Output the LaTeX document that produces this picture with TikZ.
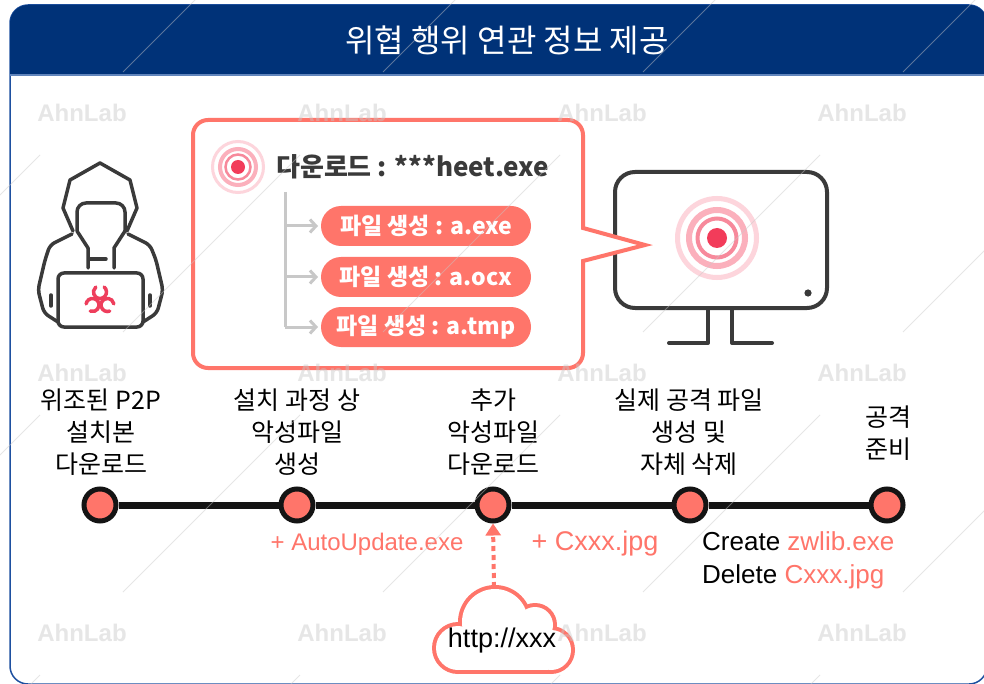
\documentclass[tikz,border=0pt]{standalone}
\usepackage{fontspec}
\setmainfont{Liberation Sans}
\newfontfamily\kr{Noto Sans CJK KR}
\usetikzlibrary{arrows.meta}

\definecolor{navy}{RGB}{0,50,120}
\definecolor{framecol}{RGB}{30,80,160}
\definecolor{salmon}{RGB}{255,117,106}
\definecolor{ink}{RGB}{58,58,58}
\definecolor{treegray}{RGB}{200,200,200}
\definecolor{wmgray}{RGB}{200,200,200}
\definecolor{tgtred}{RGB}{242,60,90}
\definecolor{tgtmid}{RGB}{247,137,155}
\definecolor{tgtpink}{RGB}{251,176,188}
\definecolor{tgtlight}{RGB}{253,213,220}
\definecolor{biored}{RGB}{238,62,92}

\begin{document}
\begin{tikzpicture}[x=1pt,y=-1pt,
  wm/.style={font=\fontsize{24}{24}\selectfont\bfseries, text=wmgray, text opacity=0.45, inner sep=0},
  wmline/.style={draw=wmgray, draw opacity=0.45, line width=1},
  icon/.style={draw=ink, line width=3.5, line cap=round, line join=round},
  biolobe/.style={draw=biored, line width=3.5, line cap=round},
  lbl/.style={font=\kr\fontsize{25}{32}\selectfont, align=center, inner sep=0, text=black},
  stage/.style={circle, draw=black!92, line width=5, fill=salmon, minimum size=32, inner sep=0},
  note/.style={font=\fontsize{24}{32}\selectfont, inner sep=0},
  pill/.style={fill=salmon, rounded corners=20, minimum width=210, minimum height=40, inner sep=0,
    font=\kr\bfseries\fontsize{23}{23}\selectfont, text=white},
  branch/.style={draw=treegray, line width=3, -{Straight Barb[length=6pt,width=13pt,line width=3pt]}},
]
\useasboundingbox (0,0) rectangle (984,684);
\fill[white] (0,0) rectangle (984,684);

% panel frame and title bar
\draw[framecol, line width=1.5, fill=white, rounded corners=18] (10,5) rectangle (987,684);
\fill[navy] (10,75) [rounded corners=18]-- (10,5) -- (987,5) [sharp corners]-- (987,75) -- cycle;
\draw[framecol!70, line width=1.2] (10,75) -- (987,75);
\node[font=\kr\fontsize{32}{36}\selectfont, text=white] (title) at (507,40) {위협 행위 연관 정보 제공};

% hooded figure with laptop
\draw[icon] (73,231) -- (63,208) -- (70,180) -- (100,163) -- (130,180) -- (137,208) -- (127,231);
\draw[icon, rounded corners=9] (77,231) -- (77,203) -- (125,203) -- (125,231);
\draw[icon] (77,231) -- (88,248) -- (88,268);
\draw[icon] (125,231) -- (114,248) -- (114,268);
\draw[icon] (89,259) -- (106,259);
\draw[icon, rounded corners=5] (72,234) -- (50,245) -- (45,260) -- (38,290) -- (44,313) -- (58,322);
\draw[icon, rounded corners=5] (128,234) -- (150,245) -- (156,260) -- (163,290) -- (157,313) -- (143,322);
\draw[icon] (51,295) -- (51,306);
\draw[icon] (150,295) -- (150,306);
\draw[icon, fill=white, rounded corners=6] (58,273) rectangle (143,327);
% biohazard mark: three open lobes around a small hub
\coordinate (bio) at (100,301);
\draw[biolobe] (100,292) ++(310:6.5) arc[start angle=310, end angle=590, radius=6.5];
\draw[biolobe] (92.5,305) ++(190:6.5) arc[start angle=190, end angle=470, radius=6.5];
\draw[biolobe] (107.5,305) ++(70:6.5) arc[start angle=70, end angle=350, radius=6.5];
\draw[biored, line width=2] (bio) circle (2.2);

% monitor
\draw[icon, line width=4, rounded corners=20] (615,172) rectangle (827,308);
\draw[icon, line width=4] (669,343) -- (708,343) -- (708,309);
\draw[icon, line width=4] (772,343) -- (732,343) -- (732,309);
\fill[ink] (808,293) circle (3.6);
\coordinate (mt) at (717,238);
\draw[tgtlight, line width=5] (mt) circle (39.5);
\draw[tgtpink, line width=6] (mt) circle (28);
\draw[tgtmid, line width=4] (mt) circle (19.5);
\fill[tgtred] (mt) circle (10);

% callout with pointer toward the monitor
\draw[salmon, line width=4, fill=white] (193,244) [rounded corners=15]-- (193,120) -- (583,120)
  [sharp corners]-- (583,228) -- (645,245) -- (583,261) [rounded corners=15]-- (583,368) -- (193,368) -- cycle;
\coordinate (ct) at (238,167);
\draw[tgtlight, line width=3] (ct) circle (25.5);
\draw[tgtpink, line width=4] (ct) circle (18);
\draw[tgtmid, line width=2.5] (ct) circle (12.5);
\fill[tgtred] (ct) circle (7);
\node[font=\kr\bfseries\fontsize{26}{26}\selectfont, text=ink, anchor=west, inner sep=0] (dl) at (276,167) {다운로드 : ***heet.exe};

\node[pill] (p1) at (426,226) {파일 생성 : a.exe};
\node[pill] (p2) at (426,277) {파일 생성 : a.ocx};
\node[pill] (p3) at (426,327) {파일 생성 : a.tmp};
\coordinate (tr) at (285,192);
\draw[treegray, line width=3] (tr) -- (285,327);
\draw[branch] (285,226) -- (318,226);
\draw[branch] (285,277) -- (318,277);
\draw[branch] (285,327) -- (318,327);

% timeline
\node[stage] (s1) at (100,505) {};
\node[stage] (s2) at (297,505) {};
\node[stage] (s3) at (493,505) {};
\node[stage] (s4) at (690,505) {};
\node[stage] (s5) at (887,505) {};
\draw[black!92, line width=7] (s1.east) -- (s2.west) (s2.east) -- (s3.west)
  (s3.east) -- (s4.west) (s4.east) -- (s5.west);

\node[lbl] (l1) at (101,432) {위조된 P2P\\설치본\\다운로드};
\node[lbl] (l2) at (297,432) {설치 과정 상\\악성파일\\생성};
\node[lbl] (l3) at (493,432) {추가\\악성파일\\다운로드};
\node[lbl] (l4) at (689,432) {실제 공격 파일\\생성 및\\자체 삭제};
\node[lbl] (l5) at (888,433) {공격\\준비};

\node[note, text=salmon, anchor=base] (n2) at (367,550) {+ AutoUpdate.exe};
\node[note, text=salmon, anchor=base, font=\fontsize{27}{32}\selectfont] (n3) at (595,550) {+ Cxxx.jpg};
\node[note, anchor=base west, font=\fontsize{26}{32}\selectfont] (n4a) at (702,550) {Create \textcolor{salmon}{zwlib.exe}};
\node[note, anchor=base west, font=\fontsize{26}{32}\selectfont] (n4b) at (702,583) {Delete \textcolor{salmon}{Cxxx.jpg}};

% cloud source of the extra download: outline by stacking filled lobes
\foreach \cx/\cy/\r in {458/648/22, 495/622/33, 535/625/18, 551/650/20}
  \fill[salmon] (\cx,\cy) circle (\r+4);
\fill[salmon] (456,626) rectangle (552,674);
\foreach \cx/\cy/\r in {458/648/22, 495/622/33, 535/625/18, 551/650/20}
  \fill[white] (\cx,\cy) circle (\r);
\fill[white] (460,630) rectangle (548,670);
\node[font=\fontsize{27}{27}\selectfont, inner sep=0] (url) at (502,641) {http://xxx};
\coordinate (ctop) at (494,587);
\draw[salmon, line width=4, dash pattern=on 5pt off 4pt, -{Triangle[length=12pt,width=15pt]}] (ctop) -- (s3.south);

% translucent watermark overlay
\foreach \wx in {82,342,602,862,1122}
  \foreach \wy in {-147,113,373,633}
    \draw[wmline] (\wx-42,\wy+42) -- (\wx-219,\wy+219);
\foreach \wx in {82,342,602,862}
  \foreach \wy in {113,373,633}
    \node[wm] (wm-\wx-\wy) at (\wx,\wy) {AhnLab};
\end{tikzpicture}
\end{document}
